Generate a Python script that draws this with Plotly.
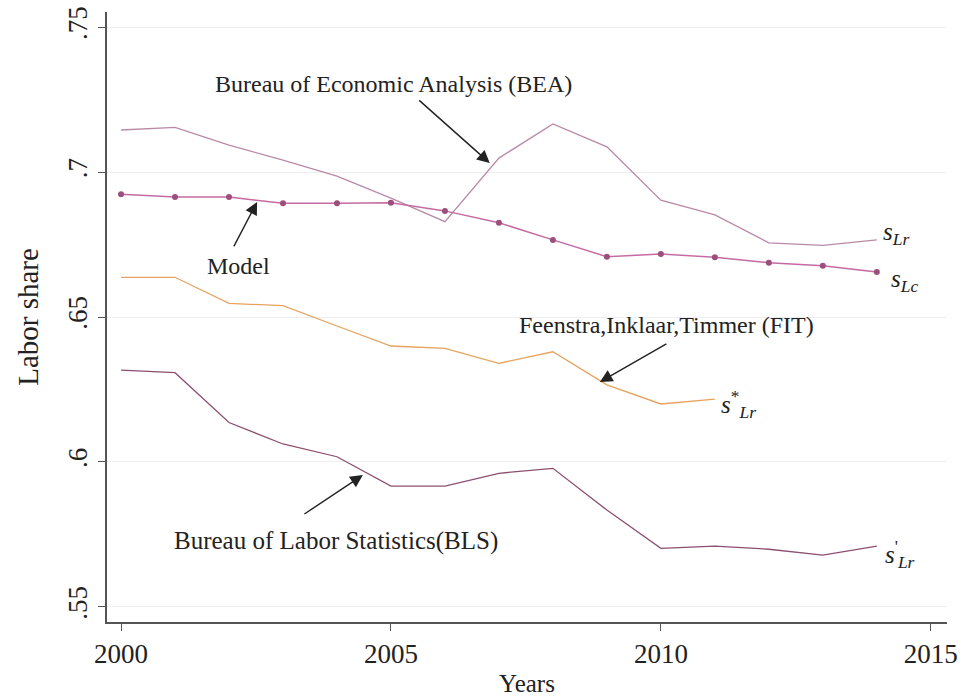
import plotly.graph_objects as go

years = list(range(2000, 2015))
bea = [0.7145, 0.7154, 0.7093, 0.7041, 0.6986, 0.6910, 0.6829, 0.7048,
       0.7166, 0.7087, 0.6903, 0.6852, 0.6756, 0.6747, 0.6766]
model = [0.6923, 0.6914, 0.6914, 0.6892, 0.6892, 0.6894, 0.6866, 0.6825,
         0.6766, 0.6708, 0.6717, 0.6706, 0.6687, 0.6677, 0.6655]
fit_years = list(range(2000, 2012))
fit = [0.6637, 0.6637, 0.6547, 0.6539, 0.6469, 0.6400, 0.6392, 0.6340,
       0.6380, 0.6266, 0.6200, 0.6217]
bls = [0.6317, 0.6308, 0.6136, 0.6062, 0.6018, 0.5917, 0.5917, 0.5961,
       0.5978, 0.5834, 0.5702, 0.5710, 0.5699, 0.5679, 0.5710]

ytick_vals = [0.55, 0.6, 0.65, 0.7, 0.75]
ytick_text = [".55", ".6", ".65", ".7", ".75"]
xtick_vals = [2000, 2005, 2010, 2015]

FONT = "Liberation Serif"
c_bea = "#b88aa6"
c_model = "#c56aa2"
c_model_mk = "#9c4f7c"
c_fit = "#e5a35e"
c_bls = "#8c4f70"

fig = go.Figure()
fig.add_trace(go.Scatter(x=years, y=bea, mode="lines",
                         line=dict(color=c_bea, width=1.3), name="BEA"))
fig.add_trace(go.Scatter(x=years, y=model, mode="lines+markers",
                         line=dict(color=c_model, width=1.5),
                         marker=dict(color=c_model_mk, size=6, symbol="circle"),
                         name="Model"))
fig.add_trace(go.Scatter(x=fit_years, y=fit, mode="lines",
                         line=dict(color=c_fit, width=1.3), name="FIT"))
fig.add_trace(go.Scatter(x=years, y=bls, mode="lines",
                         line=dict(color=c_bls, width=1.3), name="BLS"))

ann = []
tf = dict(family=FONT, size=24, color="#222222")

# text labels
ann.append(dict(x=2005.04, y=0.7303, xref="x", yref="y", text="Bureau of Economic Analysis (BEA)",
                showarrow=False, font=tf))
ann.append(dict(x=2002.17, y=0.6676, xref="x", yref="y", text="Model",
                showarrow=False, font=tf))
ann.append(dict(x=2010.11, y=0.6472, xref="x", yref="y", text="Feenstra,Inklaar,Timmer (FIT)",
                showarrow=False, font=tf))
ann.append(dict(x=2003.98, y=0.5727, xref="x", yref="y", text="Bureau of Labor Statistics(BLS)",
                showarrow=False, font=dict(tf, size=25)))

# arrows
arr = dict(showarrow=True, arrowhead=2, arrowsize=1.8, arrowwidth=1.4, arrowcolor="#222222",
           text="", xref="x", yref="y", axref="pixel", ayref="pixel")
ann.append(dict(arr, x=2006.83, y=0.7031, ax=-72, ay=-64))
ann.append(dict(arr, x=2002.52, y=0.6897, ax=-24, ay=46))
ann.append(dict(arr, x=2008.87, y=0.6276, ax=68, ay=-39))
ann.append(dict(arr, x=2004.48, y=0.5955, ax=-60, ay=40))

# end labels
lf = dict(family=FONT, size=25, color="#222222")
ann.append(dict(x=years[-1], y=bea[-1], xref="x", yref="y", xanchor="left", xshift=4, yshift=6,
                text="<i>s</i><sub><i>Lr</i></sub>", showarrow=False, font=lf))
ann.append(dict(x=years[-1], y=model[-1], xref="x", yref="y", xanchor="left", xshift=12, yshift=-8,
                text="<i>s</i><sub><i>Lc</i></sub>", showarrow=False, font=lf))
ann.append(dict(x=fit_years[-1], y=fit[-1], xref="x", yref="y", xanchor="left", xshift=4, yshift=-5,
                text="<i>s</i><sup>*</sup><sub><i>Lr</i></sub>", showarrow=False, font=lf))
ann.append(dict(x=years[-1], y=bls[-1], xref="x", yref="y", xanchor="left", xshift=6, yshift=-8,
                text="<i>s</i><sup>'</sup><sub><i>Lr</i></sub>", showarrow=False, font=lf))

fig.update_layout(
    width=965, height=697,
    margin=dict(l=107, r=18, t=12, b=75),
    paper_bgcolor="white", plot_bgcolor="white",
    showlegend=False,
    font=dict(family=FONT, color="#222222"),
    annotations=ann,
    xaxis=dict(range=[1999.74, 2015.3], tickvals=xtick_vals, automargin=False,
               ticks="outside", ticklen=7, tickcolor="#555555",
               showline=True, linecolor="#555555", linewidth=1.5,
               showgrid=False, zeroline=False,
               tickfont=dict(family=FONT, size=27, color="#222222"),
               title=dict(text="Years", font=dict(family=FONT, size=25, color="#222222"), standoff=10)),
    yaxis=dict(range=[0.5448, 0.7552], tickvals=ytick_vals, ticktext=ytick_text, automargin=False,
               ticks="outside", ticklen=7, tickcolor="#555555", tickangle=-90,
               showline=True, linecolor="#555555", linewidth=1.5,
               showgrid=True, gridcolor="#eeeeee", gridwidth=1, zeroline=False,
               tickfont=dict(family=FONT, size=27, color="#222222"),
               title=dict(text="Labor share", font=dict(family=FONT, size=29, color="#222222"), standoff=16)),
)

fig.write_html("out.html")
